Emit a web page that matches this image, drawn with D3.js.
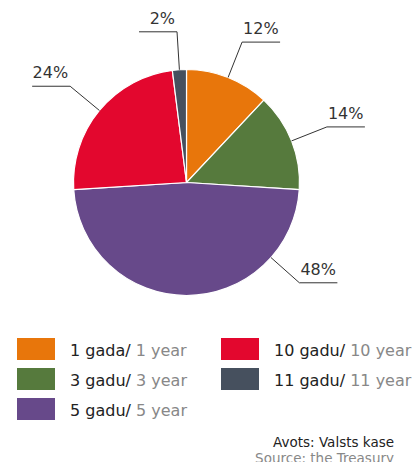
<!doctype html>
<html lang="lv">
  <head>
    <meta charset="utf-8">
    <script src="https://d3js.org/d3.v7.min.js"></script>
    <style>
      body { margin: 0; background: #fff; }
      svg { display: block; font-family: "DejaVu Sans", Verdana, sans-serif; }
    </style>
  </head>
  <body>
    <div id="chart"></div>
    <script>
      // Dati: termiņu sadalījums (%)
      const categoriesLv = ["1 gada/", "3 gadu/", "5 gadu/", "10 gadu/", "11 gadu/"];
      const categoriesEn = ["1 year", "3 year", "5 year", "10 year", "11 year"];
      const shares = [12, 14, 48, 24, 2];
      const colors = ["#E8760B", "#567A3D", "#67498A", "#E3072E", "#46505E"];

      const width = 413, height = 462;
      const cx = 186.5, cy = 182.5, radius = 113;

      const svg = d3.select("#chart").append("svg")
        .attr("width", width)
        .attr("height", height);

      const pie = d3.pie().sort(null).value(d => d.v);
      const arcs = pie(shares.map((v, i) => ({ v, i })));
      const arc = d3.arc().innerRadius(0).outerRadius(radius);

      const g = svg.append("g").attr("transform", `translate(${cx},${cy})`);

      g.selectAll("path")
        .data(arcs)
        .join("path")
          .attr("d", arc)
          .attr("fill", d => colors[d.data.i])
          .attr("stroke", "#fff")
          .attr("stroke-width", 1.2);

      // etiķetes ar norādes līnijām
      // 48% etiķete nav slīdes vidū, bet nobīdīta uz labo pusi
      const labelFrac = { 2: 0.22 };
      const elbowR = 151, tail = 38;
      arcs.forEach(d => {
        const f = labelFrac[d.data.i] !== undefined ? labelFrac[d.data.i] : 0.5;
        const a = d.startAngle + (d.endAngle - d.startAngle) * f;
        const p0 = [radius * Math.sin(a), -radius * Math.cos(a)];
        const p1 = [elbowR * Math.sin(a), -elbowR * Math.cos(a)];
        const right = Math.sin(a) >= 0;
        const p2 = [p1[0] + (right ? tail : -tail), p1[1]];
        g.append("polyline")
          .attr("points", [p0, p1, p2].map(p => p.join(",")).join(" "))
          .attr("fill", "none")
          .attr("stroke", "#333")
          .attr("stroke-width", 1);
        g.append("text")
          .attr("x", right ? p1[0] + 1 : p1[0] - 2)
          .attr("y", p1[1] - 8)
          .attr("text-anchor", right ? "start" : "end")
          .attr("font-size", 16)
          .attr("fill", "#333")
          .text(d.data.v + "%");
      });

      // leģenda
      const legendPos = [[0, 0], [0, 1], [0, 2], [1, 0], [1, 1]];
      const leg = svg.append("g");
      categoriesLv.forEach((c, i) => {
        const [col, row] = legendPos[i];
        const x = 17 + col * 204, y = 338 + row * 30;
        leg.append("rect")
          .attr("x", x).attr("y", y)
          .attr("width", 38).attr("height", 22)
          .attr("fill", colors[i]);
        const t = leg.append("text")
          .attr("x", x + 53)
          .attr("y", y + 18)
          .attr("font-size", 16)
          .attr("fill", "#222");
        t.append("tspan").text(c + " ");
        t.append("tspan").attr("fill", "#888").text(categoriesEn[i]);
      });

      // avots
      svg.append("text")
        .attr("x", 394).attr("y", 447)
        .attr("text-anchor", "end")
        .attr("font-size", 13.5)
        .attr("fill", "#222")
        .text("Avots: Valsts kase");
      svg.append("text")
        .attr("x", 394).attr("y", 463)
        .attr("text-anchor", "end")
        .attr("font-size", 13.5)
        .attr("fill", "#888")
        .text("Source: the Treasury");
    </script>
  </body>
</html>
